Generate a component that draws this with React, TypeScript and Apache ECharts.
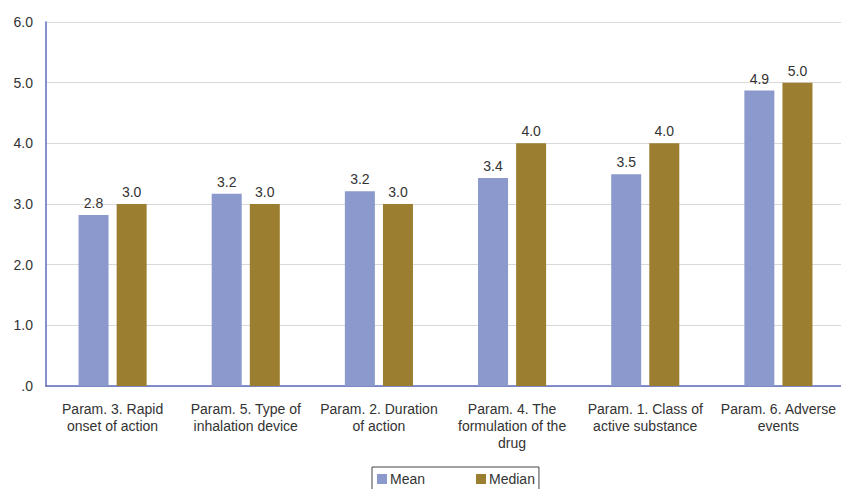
import React, { useEffect, useRef } from "react";
import * as echarts from "echarts";

const categories = [
  "Param. 3. Rapid\nonset of action",
  "Param. 5. Type of\ninhalation device",
  "Param. 2. Duration\nof action",
  "Param. 4. The\nformulation of the\ndrug",
  "Param. 1. Class of\nactive substance",
  "Param. 6. Adverse\nevents",
];
const meanValues = [2.82, 3.17, 3.21, 3.43, 3.49, 4.87];
const medianValues = [3.0, 3.0, 3.0, 4.0, 4.0, 5.0];
const yTicks = [0, 1, 2, 3, 4, 5, 6];

const FONT = "'Liberation Sans', Arial, sans-serif";

export default function App() {
  const ref = useRef<HTMLDivElement>(null);
  useEffect(() => {
    if (!ref.current) return;
    const chart = echarts.init(ref.current, undefined, { renderer: "svg" });
    const labelStyle = {
      show: true,
      position: "top" as const,
      distance: 5,
      color: "#333",
      fontSize: 14,
      fontFamily: FONT,
      formatter: (p: any) => Number(p.value).toFixed(1),
    };
    chart.setOption({
      animation: false,
      textStyle: { fontFamily: FONT },
      grid: { left: 46, right: 0, top: 22, bottom: 103, containLabel: false },
      legend: {
        data: ["Mean", "Median"],
        left: 372,
        top: 467,
        itemWidth: 10,
        itemHeight: 10,
        itemGap: 51,
        icon: "rect",
        borderColor: "#444",
        borderWidth: 1,
        borderRadius: 0,
        padding: [5, 4, 8, 5],
        textStyle: { color: "#333", fontSize: 14, fontFamily: FONT, padding: [0, 0, 0, -2] },
      },
      xAxis: {
        type: "category",
        data: categories,
        axisLine: { show: true, lineStyle: { color: "#5c6bc0", width: 1.5 } },
        axisTick: { show: false },
        axisLabel: {
          color: "#333",
          fontSize: 14,
          fontFamily: FONT,
          lineHeight: 17,
          margin: 14,
          interval: 0,
        },
      },
      yAxis: {
        type: "value",
        min: yTicks[0],
        max: yTicks[yTicks.length - 1],
        interval: 1,
        axisLine: { show: true, lineStyle: { color: "#5c6bc0", width: 1.5 } },
        axisTick: { show: false },
        splitLine: { lineStyle: { color: "#d9d9d9", width: 1 } },
        axisLabel: {
          color: "#333",
          fontSize: 14,
          fontFamily: FONT,
          margin: 13,
          formatter: (v: number) => (v === 0 ? ".0" : v.toFixed(1)),
        },
      },
      series: [
        {
          name: "Mean",
          type: "bar",
          data: meanValues,
          barWidth: 30,
          barGap: "27%",
          itemStyle: { color: "#8b99cc" },
          label: labelStyle,
        },
        {
          name: "Median",
          type: "bar",
          data: medianValues,
          barWidth: 30,
          itemStyle: { color: "#9b7e2f" },
          label: labelStyle,
        },
      ],
    });
    return () => chart.dispose();
  }, []);
  return (
    <div
      style={{
        position: "fixed",
        left: 0,
        top: 0,
        width: 841,
        height: 489,
        overflow: "hidden",
        background: "#fff",
      }}
    >
      <div ref={ref} style={{ width: 845, height: 489 }} />
    </div>
  );
}
